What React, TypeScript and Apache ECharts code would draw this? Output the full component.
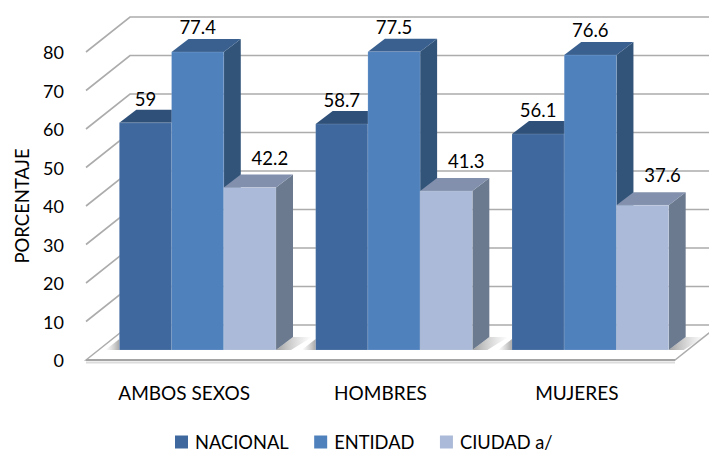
import React, { useEffect, useRef } from "react";
import * as echarts from "echarts";

const categories = ["AMBOS SEXOS", "HOMBRES", "MUJERES"];
const nacional = [59, 58.7, 56.1];
const entidad = [77.4, 77.5, 76.6];
const ciudad = [42.2, 41.3, 37.6];
const yTicks = [0, 10, 20, 30, 40, 50, 60, 70, 80];

const FONT = "Lato, 'Open Sans', sans-serif";
const WALL_DX = 44;
const WALL_DY = -35;
const DEPTH_DX = 17;
const DEPTH_DY = -13;
const BASE_LIFT = 10;
const GROUP_SHIFT = 13.5;
const BAR_RATIO = 0.266;

function shade(pts: number[][], color: any) {
  return { type: "polygon", shape: { points: pts }, style: { fill: color }, silent: true };
}

function hGrad(a: string, b: string) {
  return new echarts.graphic.LinearGradient(0, 0, 1, 0, [
    { offset: 0, color: a },
    { offset: 1, color: b },
  ]);
}

function barSeries(name: string, values: number[], index: number, front: string, top: string, side: string, labelDx: number, labelDy: number) {
  return {
    name,
    type: "custom",
    z: 5 + index,
    itemStyle: { color: front },
    encode: { x: 0, y: 1 },
    data: values.map((v, i) => [categories[i], v]),
    renderItem: (params: any, api: any) => {
      const catIdx = params.dataIndex;
      const val = api.value(1);
      const bandW = api.size([1, 0])[0];
      const w = bandW * BAR_RATIO;
      const c = api.coord([catIdx, val]);
      const b = api.coord([catIdx, 0]);
      const x0 = c[0] + GROUP_SHIFT + (index - 1.5) * w;
      const x1 = x0 + w;
      const yT = c[1] - BASE_LIFT;
      const yB = b[1] - BASE_LIFT;
      const edge = "rgba(255,255,255,0.14)";
      return {
        type: "group",
        children: [
          shade([[x1, yT], [x1 + DEPTH_DX, yT + DEPTH_DY], [x1 + DEPTH_DX, yB + DEPTH_DY], [x1, yB]], side),
          shade([[x0, yT], [x0 + DEPTH_DX, yT + DEPTH_DY], [x1 + DEPTH_DX, yT + DEPTH_DY], [x1, yT]], top),
          { type: "rect", shape: { x: x0, y: yT, width: w, height: yB - yT }, style: { fill: front, stroke: edge, lineWidth: 1 } },
          {
            type: "text",
            style: {
              text: String(val),
              x: (x0 + x1) / 2 + labelDx,
              y: yT + labelDy,
              align: "center",
              verticalAlign: "middle",
              fill: "#000",
              font: `18.5px ${FONT}`,
            },
          },
        ],
      };
    },
  };
}

export default function App() {
  const ref = useRef<HTMLDivElement>(null);
  useEffect(() => {
    const chart = echarts.init(ref.current!, null, { renderer: "svg" });
    chart.setOption({
      animation: false,
      backgroundColor: "#fff",
      textStyle: { fontFamily: FONT },
      grid: { left: 86, top: 52, width: 589, height: 308, containLabel: false },
      legend: {
        top: 433,
        left: 175,
        padding: 0,
        itemWidth: 13,
        itemHeight: 13,
        itemGap: 25.5,
        icon: "rect",
        data: ["NACIONAL", "ENTIDAD", "CIUDAD a/"],
        textStyle: { fontFamily: FONT, fontSize: 18.3, color: "#000", padding: [0, 0, 0, 2] },
      },
      xAxis: {
        type: "category",
        data: categories,
        axisLine: { show: false },
        axisTick: { show: false },
        axisLabel: { color: "#000", fontSize: 19, fontFamily: FONT, margin: 23 },
      },
      yAxis: {
        type: "value",
        min: 0,
        max: 80,
        interval: 10,
        name: "PORCENTAJE",
        nameLocation: "middle",
        nameGap: 55,
        nameTextStyle: { color: "#000", fontSize: 18.5, fontFamily: FONT },
        axisLine: { show: false },
        axisTick: { show: false },
        splitLine: { show: false },
        axisLabel: { color: "#000", fontSize: 18, fontFamily: FONT, margin: 22 },
      },
      series: [
        {
          type: "custom",
          name: "muro",
          z: 1,
          silent: true,
          encode: { y: 0 },
          data: yTicks.map((t) => [t]),
          renderItem: (_p: any, api: any) => {
            const t = api.value(0);
            const left = api.coord([0, t]);
            const gridLeft = left[0] - api.size([1, 0])[0] / 2;
            const gridRight = gridLeft + api.size([1, 0])[0] * categories.length;
            const y = left[1];
            const stroke = "#acacac";
            const children: any[] = [];
            if (t === 0) {
              children.push({
                type: "polygon",
                shape: { points: [[gridLeft, y], [gridLeft + WALL_DX, y + WALL_DY], [gridRight + WALL_DX, y + WALL_DY], [gridRight, y]] },
                style: { fill: "#fff", stroke, lineWidth: 1.5 },
              });
              children.push({
                type: "line",
                shape: { x1: gridLeft, y1: y + 2.5, x2: gridRight, y2: y + 2.5 },
                style: { stroke: "#dcdcdc", lineWidth: 2 },
              });
              children.push({
                type: "line",
                shape: { x1: gridLeft, y1: y, x2: gridRight, y2: y },
                style: { stroke: "#a4a4a4", lineWidth: 2 },
              });
            } else {
              children.push({
                type: "polyline",
                shape: { points: [[gridLeft, y], [gridLeft + WALL_DX, y + WALL_DY], [gridRight + WALL_DX, y + WALL_DY]] },
                style: { stroke, lineWidth: 1.6, fill: "none" },
              });
            }
            return { type: "group", children };
          },
        },
        {
          type: "custom",
          name: "sombra",
          z: 3,
          silent: true,
          encode: { x: 0 },
          data: categories.map((c) => [c]),
          renderItem: (params: any, api: any) => {
            const bandW = api.size([1, 0])[0];
            const w = bandW * BAR_RATIO;
            const b = api.coord([params.dataIndex, 0]);
            const yB = b[1] - BASE_LIFT;
            const xL = b[0] + GROUP_SHIFT - 1.5 * w;
            const xR = xL + 3 * w;
            return {
              type: "group",
              children: [
                shade(
                  [[xR, yB], [xR + DEPTH_DX, yB + DEPTH_DY], [xR + 36, yB + DEPTH_DY], [xR + 15, yB]],
                  hGrad("rgba(130,130,130,0.75)", "rgba(170,170,170,0)")
                ),
                shade(
                  [[xL - 14, yB], [xL, yB - 11], [xL, yB]],
                  hGrad("rgba(170,170,170,0)", "rgba(130,130,130,0.7)")
                ),
              ],
            };
          },
        },
        barSeries("NACIONAL", nacional, 0, "#3F689E", "#2F5079", "#2F5079", 0, -24),
        barSeries("ENTIDAD", entidad, 1, "#4F81BD", "#3A6090", "#325479", 0, -25),
        barSeries("CIUDAD a/", ciudad, 2, "#ABBAD8", "#8290AD", "#6C7A8F", 20, -30),
      ],
    });
    return () => chart.dispose();
  }, []);
  return <div ref={ref} style={{ width: 709, height: 452, position: "absolute", left: 0, top: 0 }} />;
}
